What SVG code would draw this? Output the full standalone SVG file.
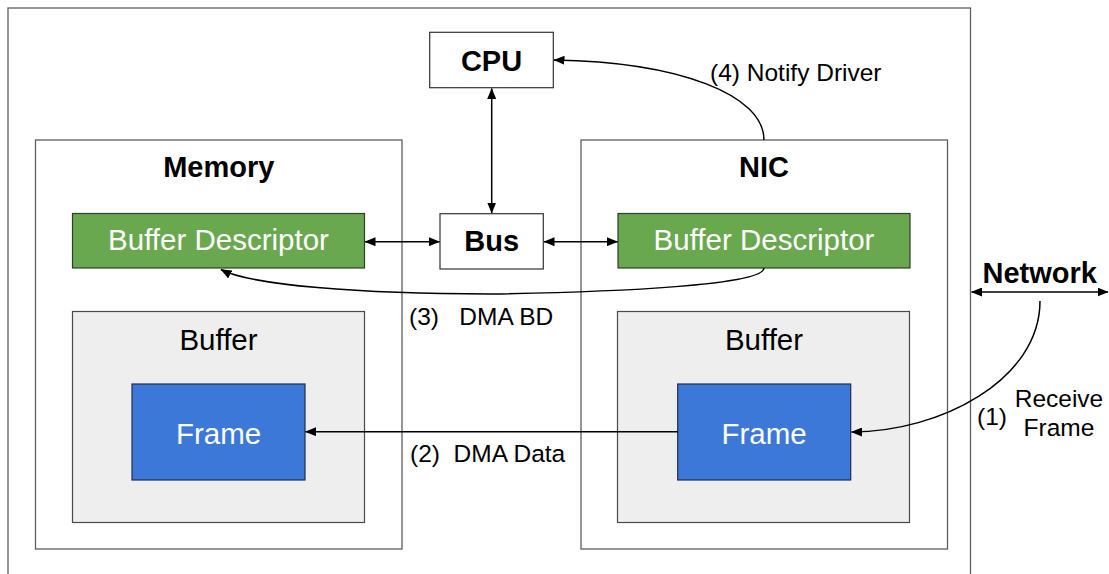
<svg xmlns="http://www.w3.org/2000/svg" width="1109" height="574" viewBox="0 0 1109 574">
  <defs>
    <marker id="arrow" viewBox="0 0 11 9" refX="10.5" refY="4.5" markerWidth="11" markerHeight="9" markerUnits="userSpaceOnUse" orient="auto-start-reverse">
      <path d="M0,0 L11,4.5 L0,9 z" fill="#000"/>
    </marker>
    <style>
      .frame { fill: #fff; stroke: #5f5f5f; stroke-width: 1.3; }
      .plain { fill: #fff; stroke: #333; stroke-width: 1.2; }
      .bd { fill: #6aa84f; stroke: #2f3f28; stroke-width: 1.2; }
      .buf { fill: #eeeeee; stroke: #4a4a4a; stroke-width: 1.2; }
      .frm { fill: #3c78d8; stroke: #1f2f4a; stroke-width: 1.2; }
      .title { font-family: "Liberation Sans", Arial, sans-serif; font-weight: bold; font-size: 29px; fill: #000; text-anchor: middle; }
      .big { font-family: "Liberation Sans", Arial, sans-serif; font-size: 29.5px; text-anchor: middle; }
      .white { fill: #fff; }
      .black { fill: #000; }
      .label { font-family: "Liberation Sans", Arial, sans-serif; font-size: 24.5px; fill: #000; }
      .conn { fill: none; stroke: #000; stroke-width: 1.5; }
    </style>
  </defs>

  <rect width="1109" height="574" fill="#fff"/>

  <!-- host enclosure -->
  <rect id="host" class="frame" x="8" y="8" width="962.5" height="580"/>

  <!-- CPU -->
  <g id="cpu">
    <rect class="plain" x="429.7" y="32.3" width="123.6" height="55.4"/>
    <text class="title" x="491.5" y="71">CPU</text>
  </g>

  <!-- Memory -->
  <g id="memory">
    <rect class="frame" x="35.5" y="140" width="366.5" height="409"/>
    <text class="title" x="218.75" y="176.5">Memory</text>
  </g>
  <g id="memory-bd">
    <rect class="bd" x="72.5" y="213.5" width="292" height="54.5"/>
    <text class="big white" x="218.5" y="250">Buffer Descriptor</text>
  </g>
  <g id="memory-buffer">
    <rect class="buf" x="72.5" y="311.5" width="292" height="211"/>
    <text class="big black" x="218.5" y="350">Buffer</text>
  </g>
  <g id="memory-frame">
    <rect class="frm" x="132" y="384" width="173" height="96"/>
    <text class="big white" x="218.5" y="443.5">Frame</text>
  </g>

  <!-- Bus -->
  <g id="bus">
    <rect class="plain" x="440" y="213.7" width="103.3" height="55.3"/>
    <text class="title" x="491.7" y="250.7">Bus</text>
  </g>

  <!-- NIC -->
  <g id="nic">
    <rect class="frame" x="581" y="140" width="366.5" height="409"/>
    <text class="title" x="764" y="176.5">NIC</text>
  </g>
  <g id="nic-bd">
    <rect class="bd" x="618" y="213.5" width="292" height="54.5"/>
    <text class="big white" x="764" y="250">Buffer Descriptor</text>
  </g>
  <g id="nic-buffer">
    <rect class="buf" x="617.5" y="311.5" width="292" height="211"/>
    <text class="big black" x="764" y="350">Buffer</text>
  </g>
  <g id="nic-frame">
    <rect class="frm" x="677.7" y="384" width="173" height="96"/>
    <text class="big white" x="764" y="443.5">Frame</text>
  </g>

  <!-- Network -->
  <g id="network">
    <text class="title" x="1039.7" y="283.3">Network</text>
  </g>

  <!-- connectors -->
  <g id="connectors">
    <line class="conn" x1="491.7" y1="88.5" x2="491.7" y2="213" marker-start="url(#arrow)" marker-end="url(#arrow)"/>
    <line class="conn" x1="365" y1="241.7" x2="439.5" y2="241.7" marker-start="url(#arrow)" marker-end="url(#arrow)"/>
    <line class="conn" x1="544" y1="241.7" x2="617.5" y2="241.7" marker-start="url(#arrow)" marker-end="url(#arrow)"/>
    <line class="conn" x1="971.5" y1="292" x2="1108" y2="292" marker-start="url(#arrow)" marker-end="url(#arrow)"/>

    <!-- (1) receive frame -->
    <path class="conn" d="M1040,301 C1040,380 940,432 851.5,432" marker-end="url(#arrow)"/>
    <!-- (2) DMA data -->
    <line class="conn" x1="677.7" y1="431.7" x2="305.5" y2="431.7" marker-end="url(#arrow)"/>
    <!-- (3) DMA buffer descriptor -->
    <path class="conn" d="M764,268 C764,285 620,292 490,294 C360,294 250,285 221,269.5" marker-end="url(#arrow)"/>
    <!-- (4) notify driver -->
    <path class="conn" d="M764,140 C764,95 680,62 554,60" marker-end="url(#arrow)"/>
  </g>

  <!-- step labels -->
  <g id="labels">
    <text class="label" x="710" y="81">(4) Notify Driver</text>
    <text class="label" x="409" y="325" xml:space="preserve">(3)   DMA BD</text>
    <text class="label" x="410" y="462" xml:space="preserve">(2)  DMA Data</text>
    <text class="label" x="977" y="425">(1)</text>
    <text class="label" x="1059" y="407" text-anchor="middle">Receive</text>
    <text class="label" x="1059" y="436" text-anchor="middle">Frame</text>
  </g>
</svg>
